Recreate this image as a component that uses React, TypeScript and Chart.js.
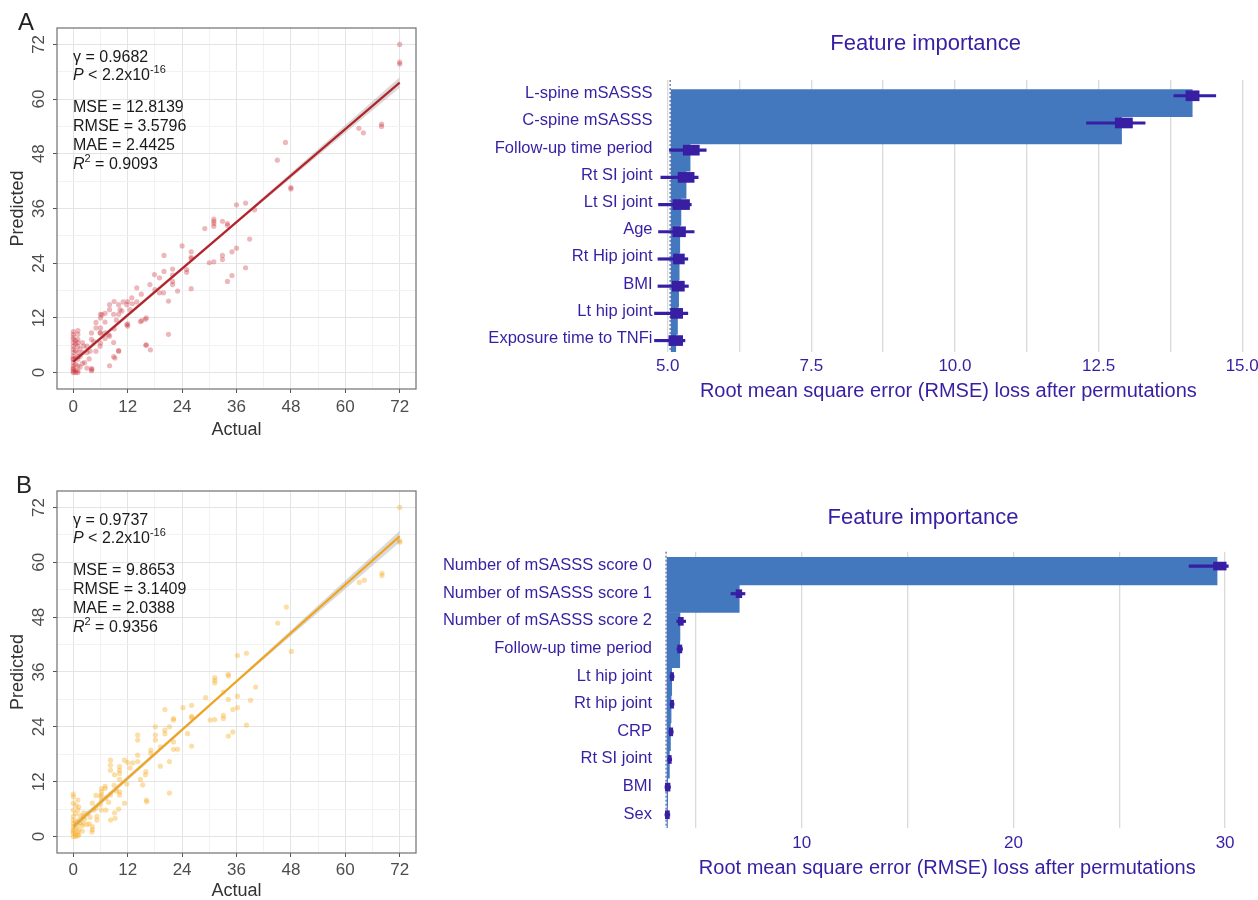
import React, { useEffect, useRef } from 'react';
import { Chart, registerables } from 'chart.js';

Chart.register(...registerables);

const FONT = "'Liberation Sans', Arial, Helvetica, sans-serif";
Chart.defaults.font.family = FONT;

const INDIGO = '#371ea3';
const BAR_BLUE = '#4378bf';

// ---------- Scatter panels (A, B) ----------
const AXIS_MIN = -3.6;
const AXIS_MAX = 75.6;
const FIT_X = [0, 72];
const BAND_X = [0, 36, 72];
const STAT_NAMES = ['MSE', 'RMSE', 'MAE'];
const P_TEXT = ' < 2.2x10';
const P_EXP = '-16';

const ACTUAL_A = [72, 72, 72, 68, 68, 63, 64, 46.8, 45, 48, 48,
  36, 38, 40, 31, 31, 31, 31, 32.9, 34, 34, 29,
  30, 31, 32.9, 32.9, 35, 36, 38.9, 38, 35, 34,
  24, 26, 26, 26, 26, 25, 25, 20, 21.9, 21.9, 21.9, 21.9, 23, 21, 20, 17.9, 19, 16.9, 18, 19, 21, 19.9,
  14, 12.9, 14, 11.8, 10.7, 10, 8, 8, 8.9, 10, 12, 12, 15.1, 16.1, 16, 17,
  6, 6, 7, 6, 6, 7, 8, 8.9, 10, 8.9, 8,
  4, 4, 4, 4, 3, 3, 2, 2, 5, 5.9,
  1, 1, 1, 1, 1, 1, 1,
  0, 0, 0, 0, 0, 0, 0, 0, 0, 0, 0, 0,
  0.5, 0.5, 0.5, 0.5, 0.5,
  1.5, 1.5, 2.5, 3, 6, 7, 5, 9, 11, 13, 15, 9, 12,
  0, 0, 0, 1, 0.5, 1, 0,
  10.3, 6.3, 5.9, 7.8, 4.5, 3.7, 2.3, 10, 9.2, 4.1, 11.8, 14.8, 15.9, 16.1, 1, 0.5, 1.5, 2, 3.5, 0, 1, 5, 7, 12.5, 9.5];
const PREDICTED_A = [72, 68.1, 67.7, 54.5, 54.0, 53.6, 52.6, 50.5, 46.6, 40.6, 40.3,
  36.8, 37.2, 35.7, 33.7, 33.2, 32.7, 32.1, 33.2, 32.7, 32.3, 31.6,
  24.1, 24.3, 25.7, 24.8, 26.5, 27.3, 29.3, 23.0, 21.3, 20.0,
  27.8, 26.5, 25.3, 25.0, 18.4, 22.6, 22.0, 25.7, 22.7, 21.4, 20.0, 19.3, 17.9, 8.4, 22.2, 21.5, 20.8, 19.3, 18.2, 17.5, 15.7, 17.5,
  18.6, 16.4, 15.5, 14.9, 13.5, 14.9, 14.9, 13.8, 12.8, 12.8, 10.7, 10.2, 11.4, 12.0, 6.0, 5.0,
  12.8, 12.0, 11.1, 9.8, 8.7, 8.7, 8.0, 6.6, 4.7, 3.5, 1.5,
  8.7, 7.3, 0.9, 0.4, 5.8, 4.4, 6.6, 4.4, 4.7, 5.8,
  8.4, 7.3, 5.8, 4.4, 2.9, 1.5, 0.4,
  8.4, 7.3, 6.6, 5.8, 5.1, 4.4, 3.6, 2.9, 2.2, 1.5, 0.7, 0,
  6.2, 4.8, 3.2, 1.8, 0.5,
  3.6, 1.2, 2.2, 1.0, 6.5, 7.5, 9.8, 9.6, 15.5, 15.1, 17.2, 15.6, 15.6,
  3.0, 1.0, 0.3, 0, 0, 3.5, 7.8,
  13.8, 12.7, 8.7, 8.3, 6.8, 4.7, 5.8, 4.8, 3.2, 0.7, 10.5, 11.2, 11.7, 6.1, 6.6, 7.0, 5.2, 2.0, 3.0, 9.0, 9.2, 11.0, 13.0, 13.8, 11.5];
const FIT_A = [2.4, 63.6];
const BAND_LOW_A = [1.9, 32.7, 62.5];
const BAND_HIGH_A = [2.9, 33.3, 64.8];
const GAMMA_A = '0.9682';
const STAT_VALUES_A = ['12.8139', '3.5796', '2.4425'];
const R2_A = '0.9093';

const ACTUAL_B = [72, 72, 72, 68.1, 68.1, 63.1, 64.2, 47, 45.1, 48.1,
  36.2, 38.2, 40.2, 39.1, 36.2, 36.2, 35.2, 34.2, 34.2, 34.2,
  31.2, 31.2, 31.2, 33.1, 29.2, 30.2, 31.2, 33.1, 33.1, 34.2,
  35.2, 38.2, 24.2, 26.1, 26.1, 26.1, 26.1, 25.2, 22.1, 22.1,
  20.2, 20.2, 20.2, 21.2, 22.1, 22.1, 23, 21.2, 21.2, 18.1,
  18.1, 18.1, 19.2, 19.2, 17.1, 17.1, 16.0, 15.3, 16.2, 14.2,
  14.2, 14.2, 13.1, 14.2, 11.3, 10.2, 10.2, 10.2, 8.2, 8.2,
  8.2, 9.1, 10.2, 10.2, 11.3, 9.1, 6.2, 6.2, 6.2, 7.2,
  8.2, 6.2, 7.2, 8.2, 5.2, 5.2, 4.2, 4.2, 4.2, 3.2,
  2.2, 2.2, 1.2, 1.2, 1.2, 1.2, 0, 0, 0, 0,
  0, 0, 0, 0, 0.5, 0.5, 0.5, 0.5, 1, 1,
  1.5, 2.5, 3, 6, 7, 5, 9, 12, 0, 0,
  0.5, 1, 0, 2,
  10.2, 6.2, 6, 7.8, 4.5, 3.7, 2.3, 10, 9.2, 4.1, 11.8, 14.8, 15.9, 16.1, 1, 0.5, 1.5, 2, 3.5, 0, 1, 5, 7, 12.5, 9.5];
const PREDICTED_B = [72, 64.7, 64.4, 57.6, 57.1, 55.6, 56.1, 50.2, 46.7, 40.5,
  39.6, 40.1, 32.7, 29.8, 30.7, 28.2, 27.8, 30.0, 35.5, 35.1,
  34.8, 34.2, 33.6, 31.6, 30.4, 25.5, 25.6, 26.5, 25.8, 22.0,
  22.9, 24.4, 28.2, 28.7, 26.3, 26.0, 19.8, 22.5, 25.8, 25.5,
  27.8, 23.3, 22.5, 24.0, 20.7, 19.1, 19.1, 16.4, 9.5, 24.0,
  22.2, 21.1, 19.6, 15.4, 18.9, 18.2, 14.2, 11.3, 7.6, 22.2,
  21.1, 17.8, 16.1, 16.4, 16.7, 15.3, 14.5, 13.8, 16.7, 15.6,
  14.5, 13.5, 9.8, 9.1, 7.3, 5.2, 9.8, 9.1, 8.0, 8.4,
  9.1, 5.8, 5.8, 3.6, 4.4, 3.6, 7.3, 2.2, 1.5, 5.1,
  4.4, 2.9, 6.5, 3.6, 1.5, 0.4, 8.7, 7.3, 5.8, 4.4,
  2.9, 1.5, 0.7, 0, 5.0, 3.2, 1.8, 0.6, 2.5, 1.0,
  3.0, 3.8, 2.6, 7.0, 10.5, 6.2, 11.2, 16.2, 3.6, 2.2,
  0, 0.2, 1.1, 1.2,
  12.5, 10.5, 8.8, 7.5, 5.8, 4.2, 5.2, 6.0, 4.0, 1.0, 11.5, 12.5, 13.5, 8.0, 5.8, 6.8, 4.6, 2.4, 2.8, 9.3, 8.0, 9.0, 11.0, 15.0, 10.0];
const FIT_B = [2.2, 65.7];
const BAND_LOW_B = [1.6, 33.65, 64.4];
const BAND_HIGH_B = [2.8, 34.25, 66.9];
const GAMMA_B = '0.9737';
const STAT_VALUES_B = ['9.8653', '3.1409', '2.0388'];
const R2_B = '0.9356';

// ---------- Feature importance panels ----------
const FI_TITLE = 'Feature importance';
const FI_AXIS_TITLE = 'Root mean square error (RMSE) loss after permutations';

const FEATURES_A = ['L-spine mSASSS', 'C-spine mSASSS', 'Follow-up time period', 'Rt SI joint', 'Lt SI joint',
  'Age', 'Rt Hip joint', 'BMI', 'Lt hip joint', 'Exposure time to TNFi'];
const BASE_A = 5.06;
const LOSS_A = [14.13, 12.90, 5.39, 5.32, 5.23, 5.21, 5.20, 5.19, 5.17, 5.14];
const WHISK_LO_A = [13.81, 12.29, 5.03, 4.88, 4.84, 4.84, 4.83, 4.83, 4.77, 4.77];
const WHISK_HI_A = [14.54, 13.31, 5.67, 5.53, 5.41, 5.46, 5.35, 5.36, 5.35, 5.30];
const BOX_LO_A = [14.02, 12.79, 5.27, 5.18, 5.09, 5.09, 5.10, 5.08, 5.05, 5.02];
const BOX_HI_A = [14.25, 13.09, 5.55, 5.46, 5.38, 5.31, 5.29, 5.29, 5.26, 5.26];

const FEATURES_B = ['Number of mSASSS score 0', 'Number of mSASSS score 1', 'Number of mSASSS score 2',
  'Follow-up time period', 'Lt hip joint', 'Rt hip joint', 'CRP', 'Rt SI joint', 'BMI', 'Sex'];
const BASE_B = 3.64;
const LOSS_B = [29.62, 7.05, 4.25, 4.24, 3.86, 3.83, 3.80, 3.75, 3.67, 3.66];
const WHISK_LO_B = [28.3, 6.66, 4.10, 4.11, 3.78, 3.78, 3.73, 3.67, 3.54, 3.54];
const WHISK_HI_B = [30.15, 7.32, 4.52, 4.37, 3.97, 3.97, 3.93, 3.86, 3.80, 3.77];
const BOX_LO_B = [29.45, 6.90, 4.17, 4.14, 3.80, 3.80, 3.75, 3.69, 3.56, 3.56];
const BOX_HI_B = [30.05, 7.17, 4.41, 4.34, 3.95, 3.95, 3.91, 3.84, 3.78, 3.75];

// ---------- helpers ----------
type Run = { text: string; italic?: boolean; sup?: boolean };

function drawRuns(ctx: CanvasRenderingContext2D, x: number, y: number, runs: Run[]) {
  let cx = x;
  for (const r of runs) {
    const size = r.sup ? 11 : 16;
    ctx.font = `${r.italic ? 'italic ' : ''}${size}px ${FONT}`;
    ctx.fillText(r.text, cx, r.sup ? y - 6 : y);
    cx += ctx.measureText(r.text).width;
  }
}

function statsLines(gamma: string, values: string[], r2: string) {
  const lines: { dy: number; runs: Run[] }[] = [
    { dy: 30, runs: [{ text: 'γ = ' + gamma }] },
    { dy: 48, runs: [{ text: 'P', italic: true }, { text: P_TEXT }, { text: P_EXP, sup: true }] },
  ];
  STAT_NAMES.forEach((n, i) => lines.push({ dy: 80 + i * 19, runs: [{ text: `${n} = ${values[i]}` }] }));
  lines.push({ dy: 136.5, runs: [{ text: 'R', italic: true }, { text: '2', sup: true }, { text: ' = ' + r2 }] });
  return lines;
}

const framePlugin = {
  id: 'frame',
  afterDraw(chart: any) {
    const { ctx, chartArea: a } = chart;
    ctx.save();
    ctx.strokeStyle = '#707070';
    ctx.lineWidth = 1.2;
    ctx.strokeRect(a.left, a.top, a.right - a.left, a.bottom - a.top);
    ctx.restore();
  },
};

function statsPlugin(lines: { dy: number; runs: Run[] }[]) {
  return {
    id: 'stats',
    afterDraw(chart: any) {
      const { ctx, chartArea } = chart;
      ctx.save();
      ctx.fillStyle = '#1a1a1a';
      ctx.textAlign = 'left';
      ctx.textBaseline = 'middle';
      lines.forEach((l) => drawRuns(ctx, chartArea.left + 16, chartArea.top + l.dy, l.runs));
      ctx.restore();
    },
  };
}

function scatterConfig(o: any) {
  const pts = o.actual.map((x: number, i: number) => ({ x, y: o.predicted[i] }));
  const fit = FIT_X.map((x, i) => ({ x, y: o.fit[i] }));
  const hi = BAND_X.map((x, i) => ({ x, y: o.bandHigh[i] }));
  const lo = BAND_X.map((x, i) => ({ x, y: o.bandLow[i] }));
  const isMajor = (v: number) => Math.abs(v % 12) < 1e-9;
  const gridColor = (c: any) => (c.tick && isMajor(c.tick.value) ? '#e4e4e4' : '#f2f2f2');
  const tickColor = (c: any) => (c.tick && isMajor(c.tick.value) ? '#555555' : 'rgba(0,0,0,0)');
  const tickFont = { family: FONT, size: 17 };
  const titleFont = { family: FONT, size: 18 };
  const label = (v: any) => (isMajor(Number(v)) ? String(v) : '');
  return {
    type: 'scatter',
    data: {
      datasets: [
        { type: 'line', data: fit, borderColor: o.lineColor, borderWidth: 2.2, pointRadius: 0, fill: false },
        { type: 'line', data: hi, borderColor: 'rgba(0,0,0,0)', borderWidth: 0, pointRadius: 0, backgroundColor: 'rgba(150,150,150,0.35)', fill: '+1' },
        { type: 'line', data: lo, borderColor: 'rgba(0,0,0,0)', borderWidth: 0, pointRadius: 0, fill: false },
        { type: 'scatter', data: pts, pointRadius: 2.6, pointBackgroundColor: o.pointColor, pointBorderWidth: 0, pointBorderColor: 'rgba(0,0,0,0)' },
      ],
    },
    options: {
      responsive: false,
      animation: false,
      layout: { padding: { left: 0, right: 24, top: o.padTop, bottom: 0 } },
      plugins: { legend: { display: false }, tooltip: { enabled: false } },
      scales: {
        x: {
          type: 'linear', min: AXIS_MIN, max: AXIS_MAX,
          border: { display: false },
          grid: { color: gridColor, tickColor, lineWidth: 1, tickLength: 4, drawTicks: true },
          ticks: { stepSize: 6, includeBounds: false, autoSkip: false, maxRotation: 0, color: '#4d4d4d', font: tickFont, padding: o.xTickPad, callback: label },
          title: { display: true, text: 'Actual', color: '#333333', font: titleFont, padding: { top: 0, bottom: o.xTitlePad } },
          afterFit: (s: any) => { s.height = o.xHeight; },
        },
        y: {
          type: 'linear', min: AXIS_MIN, max: AXIS_MAX,
          border: { display: false },
          grid: { color: gridColor, tickColor, lineWidth: 1, tickLength: 4, drawTicks: true },
          ticks: { stepSize: 6, includeBounds: false, autoSkip: false, minRotation: 90, maxRotation: 90, crossAlign: 'center', color: '#4d4d4d', font: tickFont, padding: 4, callback: label },
          title: { display: true, text: 'Predicted', color: '#333333', font: titleFont, padding: { top: 7, bottom: 0 } },
          afterFit: (s: any) => { s.width = 57; },
        },
      },
    },
    plugins: [framePlugin, statsPlugin(o.lines)],
  };
}

function featureConfig(o: any) {
  const idx = o.features.map((_: string, i: number) => i);
  return {
    type: 'bar',
    data: {
      datasets: [
        { data: idx.map((i: number) => ({ x: [o.boxLo[i], o.boxHi[i]], y: i + o.markShift })), backgroundColor: INDIGO, barThickness: o.boxThick, grouped: false, clip: false },
        { data: idx.map((i: number) => ({ x: [o.wLo[i], o.wHi[i]], y: i + o.markShift })), backgroundColor: INDIGO, barThickness: 2.5, grouped: false, clip: false },
        { data: idx.map((i: number) => ({ x: [o.base, o.loss[i]], y: i + o.barShift })), backgroundColor: BAR_BLUE, barThickness: o.barThick, grouped: false },
      ],
    },
    options: {
      indexAxis: 'y',
      responsive: false,
      animation: false,
      layout: { padding: { left: 0, right: o.padRight, top: o.padTop, bottom: 0 } },
      plugins: { legend: { display: false }, tooltip: { enabled: false } },
      scales: {
        x: {
          type: 'linear', min: o.xMin, max: o.xMax,
          border: { display: false },
          grid: { color: '#dadada', lineWidth: 1.3, drawTicks: false },
          ticks: { stepSize: o.xStep, includeBounds: false, autoSkip: false, maxRotation: 0, color: INDIGO, font: { family: FONT, size: 17 }, padding: o.xTickPad, callback: o.xLabel },
          title: { display: true, text: FI_AXIS_TITLE, color: INDIGO, font: { family: FONT, size: 20 }, padding: { top: 0, bottom: o.xTitlePad } },
          afterFit: (s: any) => { s.height = o.xHeight; },
        },
        y: {
          type: 'linear', display: false, min: -0.5, max: 9.5, reverse: true, offset: false,
          grid: { offset: false },
        },
        yLab: {
          type: 'category', axis: 'y', position: 'left', labels: o.features, offset: true,
          border: { display: false },
          grid: { display: false, drawTicks: false },
          ticks: { autoSkip: false, color: INDIGO, font: { family: FONT, size: 16.5 }, padding: o.yTickPad },
          afterFit: (s: any) => { s.width = o.yWidth; },
        },
      },
    },
    plugins: [
      {
        id: 'baseline',
        beforeDatasetsDraw(chart: any) {
          const { ctx, chartArea, scales } = chart;
          const x = scales.x.getPixelForValue(o.base) - 1;
          ctx.save();
          ctx.strokeStyle = '#6b6b9e';
          ctx.lineWidth = 1.3;
          ctx.setLineDash([2, 2]);
          ctx.beginPath();
          ctx.moveTo(x, chartArea.top);
          ctx.lineTo(x, chartArea.bottom);
          ctx.stroke();
          ctx.restore();
        },
      },
      {
        id: 'fiTitle',
        afterDraw(chart: any) {
          const { ctx } = chart;
          ctx.save();
          ctx.font = `22px ${FONT}`;
          ctx.fillStyle = INDIGO;
          ctx.textAlign = 'center';
          ctx.textBaseline = 'middle';
          ctx.fillText(FI_TITLE, o.titleX, o.titleY);
          ctx.restore();
        },
      },
    ],
  };
}

function ChartCanvas({ build, left, top, width, height }: any) {
  const ref = useRef<HTMLCanvasElement>(null);
  useEffect(() => {
    const chart = new Chart(ref.current as HTMLCanvasElement, build());
    return () => chart.destroy();
  }, []);
  return (
    <canvas ref={ref} width={width} height={height}
      style={{ position: 'absolute', left, top, width, height }} />
  );
}

const letterStyle = (left: number, top: number): React.CSSProperties => ({
  position: 'absolute', left, top, fontFamily: FONT, fontSize: 24, lineHeight: '26px', color: '#222',
});

export default function App() {
  const scatterA = () => scatterConfig({
    actual: ACTUAL_A, predicted: PREDICTED_A, fit: FIT_A, bandLow: BAND_LOW_A, bandHigh: BAND_HIGH_A,
    pointColor: 'rgba(200,40,48,0.33)', lineColor: '#b5232a',
    padTop: 28, xHeight: 61, xTickPad: 4, xTitlePad: 9,
    lines: statsLines(GAMMA_A, STAT_VALUES_A, R2_A),
  });
  const scatterB = () => scatterConfig({
    actual: ACTUAL_B, predicted: PREDICTED_B, fit: FIT_B, bandLow: BAND_LOW_B, bandHigh: BAND_HIGH_B,
    pointColor: 'rgba(246,168,30,0.38)', lineColor: '#f2a419',
    padTop: 41, xHeight: 57, xTickPad: 3, xTitlePad: 8,
    lines: statsLines(GAMMA_B, STAT_VALUES_B, R2_B),
  });
  const featA = () => featureConfig({
    features: FEATURES_A, base: BASE_A, loss: LOSS_A, wLo: WHISK_LO_A, wHi: WHISK_HI_A, boxLo: BOX_LO_A, boxHi: BOX_HI_A,
    xMin: 4.77, xMax: 15.0, xStep: 1.25,
    xLabel: (v: any) => {
      const k = (Number(v) - 5) / 2.5;
      return Math.abs(k - Math.round(k)) < 1e-6 ? Number(v).toFixed(1) : '';
    },
    padTop: 80, padRight: 27.8, yWidth: 214.5, xHeight: 68, xTickPad: 4.5, xTitlePad: 17, yTickPad: 2,
    barShift: 0.35, markShift: 0.08, barThick: 27.2, boxThick: 10,
    titleX: 485.7, titleY: 44,
  });
  const featB = () => featureConfig({
    features: FEATURES_B, base: BASE_B, loss: LOSS_B, wLo: WHISK_LO_B, wHi: WHISK_HI_B, boxLo: BOX_LO_B, boxHi: BOX_HI_B,
    xMin: 3.25, xMax: 30.5, xStep: 5,
    xLabel: (v: any) => (Number(v) % 10 === 0 ? String(v) : ''),
    padTop: 91.7, padRight: 22.3, yWidth: 218.8, xHeight: 72, xTickPad: 5, xTitlePad: 19.7, yTickPad: 6.8,
    barShift: 0.2, markShift: 0.02, barThick: 27.6, boxThick: 8,
    titleX: 483, titleY: 58,
  });
  return (
    <div style={{ position: 'absolute', left: 0, top: 0, width: 1258, height: 900, overflow: 'hidden', background: '#ffffff' }}>
      <ChartCanvas build={scatterA} left={0} top={0} width={440} height={450} />
      <ChartCanvas build={scatterB} left={0} top={450} width={440} height={460} />
      <ChartCanvas build={featA} left={440} top={0} width={830} height={420} />
      <ChartCanvas build={featB} left={440} top={460} width={818} height={440} />
      <div style={letterStyle(18, 9)}>A</div>
      <div style={letterStyle(16, 472)}>B</div>
    </div>
  );
}
